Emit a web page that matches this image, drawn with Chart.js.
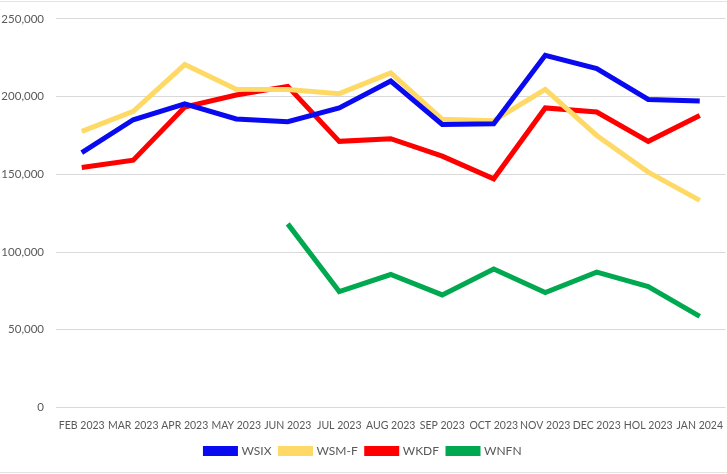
<!DOCTYPE html>
<html>
<head>
<meta charset="utf-8">
<script src="https://cdn.jsdelivr.net/npm/chart.js@4.4.0/dist/chart.umd.min.js"></script>
<style>
  html, body { margin: 0; padding: 0; background: #fff; }
  #wrap { width: 727px; height: 474px; position: relative; }
  #wrap::before, #wrap::after { content: ''; position: absolute; left: 0; right: 0; height: 1px; background: #e3e3e3; }
  #wrap::before { top: 1px; }
  #wrap::after { bottom: 1px; }
</style>
</head>
<body>
<div id="wrap"><canvas id="lineChart"></canvas></div>
<script>
const months = ['FEB 2023', 'MAR 2023', 'APR 2023', 'MAY 2023', 'JUN 2023', 'JUL 2023', 'AUG 2023',
  'SEP 2023', 'OCT 2023', 'NOV 2023', 'DEC 2023', 'HOL 2023', 'JAN 2024'];
const wsix = [163900, 185100, 195400, 185600, 183800, 192700, 210000, 182100, 182500, 226600, 218000, 198200, 197200];
const wsmf = [177600, 190500, 220600, 204700, 204500, 201900, 215200, 185400, 184500, 204700, 175000, 151400, 133200];
const wkdf = [154400, 159100, 193300, 201000, 206600, 171200, 172900, 161700, 147100, 192700, 190100, 171200, 187900];
const wnfn = [null, null, null, null, 118100, 74500, 85500, 72400, 89100, 73900, 87000, 77800, 58600];
const yTicks = [0, 50000, 100000, 150000, 200000, 250000];

document.addEventListener('DOMContentLoaded', () => {
  const ctx = document.getElementById('lineChart').getContext('2d');
  const mk = (label, data, color) => ({
    label: label,
    data: data,
    borderColor: color,
    backgroundColor: color,
    borderWidth: 5,
    pointRadius: 0,
    tension: 0,
    spanGaps: false
  });

  new Chart(ctx, {
    type: 'line',
    data: {
      labels: months,
      datasets: [
        mk('WSIX', wsix, '#0a0af0'),
        mk('WSM-F', wsmf, '#ffd966'),
        mk('WKDF', wkdf, '#ff0000'),
        mk('WNFN', wnfn, '#00a84f')
      ]
    },
    options: {
      responsive: true,
      maintainAspectRatio: false,
      animation: false,
      layout: { padding: { top: 8, right: 0, left: 0, bottom: 7 } },
      plugins: {
        legend: {
          position: 'bottom',
          labels: {
            boxWidth: 30,
            boxHeight: 5,
            padding: 9,
            color: '#595959',
            font: { family: 'Lato', size: 12 }
          }
        },
        tooltip: { enabled: false }
      },
      scales: {
        x: {
          offset: true,
          grid: { display: false },
          border: { display: false },
          ticks: {
            color: '#595959',
            maxRotation: 0,
            autoSkip: false,
            padding: 4,
            font: { family: 'Lato', size: 10.5 }
          }
        },
        y: {
          min: 0,
          max: 250000,
          afterBuildTicks: (scale) => { scale.ticks = yTicks.map(v => ({ value: v })); },
          afterFit: (scale) => { scale.width = 56; },
          grid: { color: '#d9d9d9', drawTicks: false },
          border: { display: false },
          ticks: {
            color: '#595959',
            padding: 12,
            font: { family: 'Lato', size: 11.5 },
            callback: (v) => v.toLocaleString('en-US')
          }
        }
      }
    }
  });
});
</script>
</body>
</html>
